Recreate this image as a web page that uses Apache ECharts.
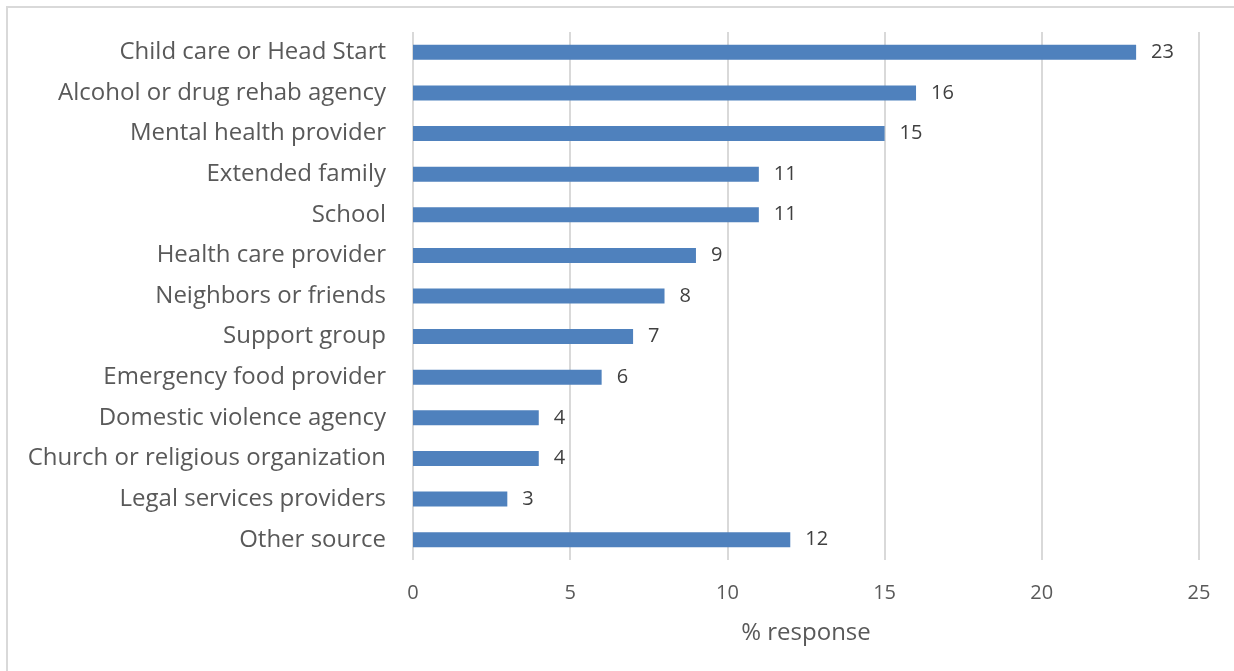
<!DOCTYPE html>
<html>
<head>
<meta charset="utf-8">
<script src="https://cdn.jsdelivr.net/npm/echarts@6/dist/echarts.min.js"></script>
<style>
  html, body { margin: 0; padding: 0; background: #fff; }
  #chart { width: 1234px; height: 671px; }
</style>
</head>
<body>
<div id="chart"></div>
<script>
// Sources of help, listed top to bottom
const categories = [
  'Child care or Head Start',
  'Alcohol or drug rehab agency',
  'Mental health provider',
  'Extended family',
  'School',
  'Health care provider',
  'Neighbors or friends',
  'Support group',
  'Emergency food provider',
  'Domestic violence agency',
  'Church or religious organization',
  'Legal services providers',
  'Other source'
];
const responsePct = [23, 16, 15, 11, 11, 9, 8, 7, 6, 4, 4, 3, 12];
const xTicks = [0, 5, 10, 15, 20, 25];

const FONT = '"Open Sans", Lato, sans-serif';
const chart = echarts.init(document.getElementById('chart'), null, { renderer: 'canvas' });

chart.setOption({
  animation: false,
  backgroundColor: '#ffffff',
  graphic: [{
    type: 'rect',
    shape: { x: 7, y: 7, width: 1240, height: 680 },
    style: { fill: 'none', stroke: '#d9d9d9', lineWidth: 2 },
    silent: true
  }],
  grid: { left: 413, right: 35, top: 32, bottom: 111, containLabel: false },
  xAxis: {
    type: 'value',
    min: xTicks[0],
    max: xTicks[xTicks.length - 1],
    interval: 5,
    name: '% response',
    nameLocation: 'middle',
    nameGap: 61,
    nameTextStyle: { color: '#595959', fontSize: 24, fontFamily: FONT },
    axisLine: { show: false },
    axisTick: { show: false },
    axisLabel: { color: '#595959', fontSize: 20, fontFamily: FONT, margin: 23 },
    splitLine: { show: true, lineStyle: { color: '#d9d9d9', width: 2 } }
  },
  yAxis: {
    type: 'category',
    inverse: true,
    data: categories,
    axisLine: { show: false },
    axisTick: { show: false },
    axisLabel: { color: '#595959', fontSize: 24, fontFamily: FONT, margin: 27 },
    splitLine: { show: false }
  },
  series: [{
    type: 'bar',
    data: responsePct,
    barWidth: 15,
    itemStyle: { color: '#4f81bd' },
    label: {
      show: true,
      position: 'right',
      distance: 15,
      color: '#404040',
      fontSize: 20,
      fontFamily: FONT
    }
  }]
});
</script>
</body>
</html>
